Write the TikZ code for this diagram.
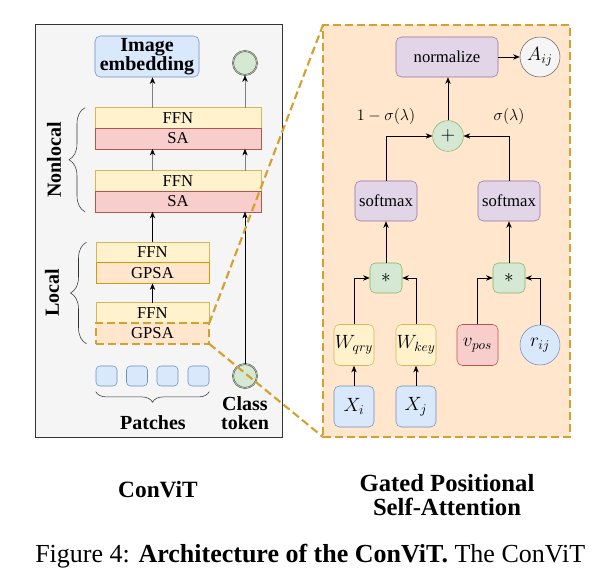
\documentclass[tikz,border=0pt]{standalone}
\usepackage{amsmath}
\usepackage{fontspec}
\setmainfont{Liberation Serif}
\usepackage{xcolor}
\usepackage{tikz}
\usetikzlibrary{arrows.meta,positioning,calc,decorations.pathreplacing}

\definecolor{blueFill}{HTML}{DAE8FC}
\definecolor{blueLine}{HTML}{6C8EBF}
\definecolor{greenFill}{HTML}{D5E8D4}
\definecolor{greenLine}{HTML}{82B366}
\definecolor{yellowFill}{HTML}{FFF2CC}
\definecolor{yellowLine}{HTML}{D6B656}
\definecolor{redFill}{HTML}{F8CECC}
\definecolor{redLine}{HTML}{B85450}
\definecolor{orangeFill}{HTML}{FFE6CC}
\definecolor{orangeLine}{HTML}{D79B00}
\definecolor{purpleFill}{HTML}{E1D5E7}
\definecolor{purpleLine}{HTML}{9673A6}
\definecolor{grayFill}{HTML}{F5F5F5}
\definecolor{grayLine}{HTML}{666666}
\definecolor{goldLine}{HTML}{D4A030}

\begin{document}
\begin{tikzpicture}[x=0.75pt,y=-0.75pt,
panel/.style={rectangle, draw, inner sep=0pt, outer sep=0pt},
layer/.style={rectangle, draw, minimum height=15.4pt, inner sep=0pt, outer sep=0pt, font=\fontsize{12.5}{14}\selectfont},
wide/.style={minimum width=124.5pt},
narrow/.style={minimum width=85pt},
ffn/.style={layer, fill=yellowFill, draw=yellowLine},
sa/.style={layer, fill=redFill, draw=redLine},
gpsa/.style={layer, fill=orangeFill, draw=orangeLine},
rbox/.style={rectangle, rounded corners=4pt, draw, inner sep=0pt, font=\fontsize{12.5}{14}\selectfont},
mathbox/.style={rbox, font=\fontsize{14}{16}\selectfont},
patch/.style={rectangle, rounded corners=3pt, draw=blueLine, fill=blueFill, minimum width=15.75pt, minimum height=15pt},
token/.style={circle, draw=black!65, fill=greenFill, minimum size=18pt, inner sep=0pt, double=greenLine!60, double distance=0.5pt},
bold/.style={font=\fontsize{15}{14.5}\selectfont\bfseries, align=center},
arrow/.style={-{Stealth[length=5pt,width=4pt]}, black},
garrow/.style={-{Stealth[length=5pt,width=4pt,black]}, draw=black!50},
brace/.style={decorate, decoration={brace, amplitude=#1}, black!80, thin},
zoomline/.style={draw=goldLine, line width=1.6pt, dash pattern=on 6pt off 3pt}
]
\useasboundingbox (0,0) rectangle (593,573);

% Panels
\node[panel, fill=grayFill, draw=black!80, minimum width=185.25pt, minimum height=309.75pt] (convit) at (158.5,230.5) {};
\node[panel, fill=orangeFill, draw=goldLine, line width=1.6pt, dash pattern=on 6pt off 3pt, minimum width=185.25pt, minimum height=309pt] (gpsaview) at (446.5,231) {};

% Nonlocal layers
\node[ffn, wide] (ffnA) at (178,118) {FFN};
\node[sa, wide, below=0pt of ffnA] (saA) {SA};
\node[ffn, wide] (ffnB) at (178,181) {FFN};
\node[sa, wide, below=0pt of ffnB] (saB) {SA};

% Local layers
\node[ffn, narrow] (ffnC) at (152.5,252.5) {FFN};
\node[gpsa, narrow, below=0pt of ffnC] (gpsaC) {GPSA};
\node[ffn, narrow] (ffnD) at (152.5,313) {FFN};
\node[gpsa, narrow, below=0pt of ffnD, draw=goldLine, line width=1.6pt, dash pattern=on 6pt off 3pt] (gpsaD) {GPSA};

% Outputs
\node[rbox, fill=blueFill, draw=blueLine, minimum width=78pt, minimum height=30.75pt, bold] (img) at (147,56.5) {Image\\embedding};
\node[token] (clsout) at (245,63) {};

% Inputs
\foreach \i/\x in {1/106.5,2/137,3/167.5,4/198.5}
  \node[patch] (p\i) at (\x,376) {};
\node[token] (clsin) at (245,376) {};
\node[bold] (clslbl) at (245,413) {Class\\token};
\node[bold] (patchlbl) at (153,423) {Patches};

% Braces
\draw[brace=8pt, decoration={mirror}] ([yshift=-4pt]p1.south west) -- ([yshift=-4pt]p4.south east);
\draw[brace=12pt] ([xshift=-7.5pt]saB.south west) -- ([xshift=-7.5pt]ffnA.north west);
\draw[brace=12pt] ([xshift=-7pt]gpsaD.south west) -- ([xshift=-7pt]ffnC.north west);
\node[bold, rotate=90] (nonlocallbl) at (54,160) {Nonlocal};
\node[bold, rotate=90] (locallbl) at (52,293) {Local};

% Left arrows
\draw[garrow] (ffnA.north -| ffnC) -- (img.south -| ffnC);
\draw[garrow] (ffnA.north -| clsout) -- (clsout.south);
\draw[garrow] (ffnB.north -| ffnC) -- (saA.south -| ffnC);
\draw[garrow] (ffnB.north -| clsout) -- (saA.south -| clsout);
\draw[arrow] (ffnC.north) -- (saB.south -| ffnC);
\draw[arrow] (ffnD.north) -- (gpsaC.south);
\draw[arrow] (clsin.north) -- (saB.south -| clsin);

% Gated positional self-attention
\node[rbox, fill=purpleFill, draw=purpleLine, minimum width=76.5pt, minimum height=30pt] (norm) at (447,57) {normalize};
\node[circle, draw=grayLine, fill=grayFill, minimum size=30pt, inner sep=0pt, font=\fontsize{14}{16}\selectfont] (aij) at (540,57) {$A_{ij}$};
\node[circle, draw=greenLine, fill=greenFill, minimum size=23pt, inner sep=0pt, font=\fontsize{14}{16}\selectfont] (plus) at (448,136) {$+$};
\node[rbox, fill=purpleFill, draw=purpleLine, minimum width=46.5pt, minimum height=30pt] (smL) at (386,201) {softmax};
\node[rbox, fill=purpleFill, draw=purpleLine, minimum width=46.5pt, minimum height=30pt] (smR) at (509,201) {softmax};
\node[mathbox, fill=greenFill, draw=greenLine, minimum width=24pt, minimum height=22.5pt] (mulL) at (386,278) {$*$};
\node[mathbox, fill=greenFill, draw=greenLine, minimum width=24pt, minimum height=22.5pt] (mulR) at (509,278) {$*$};
\node[mathbox, fill=yellowFill, draw=yellowLine, minimum width=30pt, minimum height=30.75pt] (wq) at (354,345) {$W_{qry}$};
\node[mathbox, fill=yellowFill, draw=yellowLine, minimum width=30pt, minimum height=30.75pt] (wk) at (416,345) {$W_{key}$};
\node[mathbox, fill=redFill, draw=redLine, minimum width=30.75pt, minimum height=30.75pt] (vpos) at (477.5,345) {$v_{pos}$};
\node[circle, draw=blueLine, fill=blueFill, minimum size=30pt, inner sep=0pt, font=\fontsize{14}{16}\selectfont] (rij) at (540,345) {$r_{ij}$};
\node[mathbox, fill=blueFill, draw=blueLine, minimum width=30pt, minimum height=30.75pt] (xi) at (354,406.5) {$X_i$};
\node[mathbox, fill=blueFill, draw=blueLine, minimum width=30pt, minimum height=30.75pt] (xj) at (416,406.5) {$X_j$};

\draw[arrow] (norm) -- (aij);
\draw[arrow] (plus) -- (plus |- norm.south);
\draw[arrow] (smL.north) |- (plus.west) node[pos=0.5, above=5pt, font=\fontsize{12.5}{14}\selectfont] {$1-\sigma(\lambda)$};
\draw[arrow] (smR.north) |- (plus.east) node[pos=0.5, above=5pt, font=\fontsize{12.5}{14}\selectfont] {$\sigma(\lambda)$};
\draw[arrow] (mulL) -- (smL);
\draw[arrow] (mulR) -- (smR);
\draw[arrow] (wq.north) |- (mulL.west);
\draw[arrow] (wk.north) |- (mulL.east);
\draw[arrow] (vpos.north) |- (mulR.west);
\draw[arrow] (rij.north) |- (mulR.east);
\draw[arrow] (xi) -- (wq);
\draw[arrow] (xj) -- (wk);

% Zoom lines
\draw[zoomline] (gpsaD.north east) -- (gpsaview.north west);
\draw[zoomline] (gpsaD.south east) -- (gpsaview.south west);

% Titles and caption
\node[font=\fontsize{17.5}{20}\selectfont\bfseries] (convitlbl) at (158,490) {ConViT};
\node[font=\fontsize{18.5}{18}\selectfont\bfseries, align=center] (gpsalbl) at (447,495) {Gated Positional\\Self-Attention};
\node[anchor=base west, inner sep=0pt, font=\fontsize{19.5}{22}\selectfont] (caption) at (35,562) {Figure 4: \textbf{Architecture of the ConViT.} The ConViT};
\end{tikzpicture}
\end{document}
